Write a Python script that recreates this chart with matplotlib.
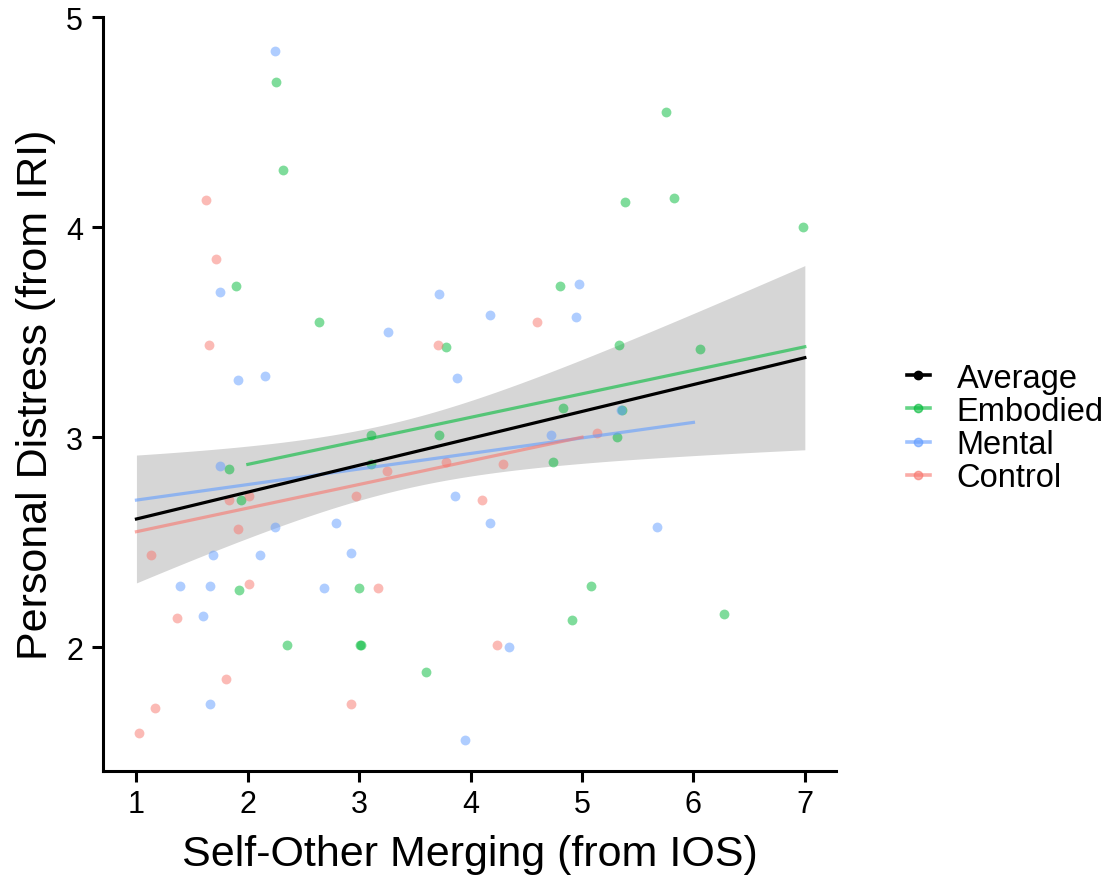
import numpy as np
import matplotlib
matplotlib.use("Agg")
import matplotlib.pyplot as plt
from matplotlib.lines import Line2D

plt.rcParams['font.family'] = ['Liberation Sans', 'DejaVu Sans']

# ---- data (x is jittered IOS) ----
emb_x = [2.25, 2.32, 1.89, 2.64, 3.78, 3.11, 3.72, 1.83, 3.11, 1.94, 1.92, 3.00, 2.35, 3.01, 3.02,
         3.60, 5.75, 5.39, 5.83, 6.98, 4.80, 5.33, 6.06, 4.83, 5.36, 5.31, 4.74, 5.08, 4.91, 6.27]
emb_y = [4.69, 4.27, 3.72, 3.55, 3.43, 3.01, 3.01, 2.85, 2.87, 2.70, 2.27, 2.28, 2.01, 2.01, 2.01,
         1.88, 4.55, 4.12, 4.14, 4.00, 3.72, 3.44, 3.42, 3.14, 3.13, 3.00, 2.88, 2.29, 2.13, 2.16]

men_x = [2.24, 1.75, 3.72, 3.26, 1.91, 2.15, 3.88, 1.75, 3.86, 2.24, 2.79, 1.69, 2.11, 2.93,
         1.39, 1.66, 2.68, 1.60, 1.66, 3.95, 4.97, 4.17, 4.95, 5.35, 4.72, 4.17, 5.67, 4.34]
men_y = [4.84, 3.69, 3.68, 3.50, 3.27, 3.29, 3.28, 2.86, 2.72, 2.57, 2.59, 2.44, 2.44, 2.45,
         2.29, 2.29, 2.28, 2.15, 1.73, 1.56, 3.73, 3.58, 3.57, 3.13, 3.01, 2.59, 2.57, 2.00]

con_x = [1.62, 1.71, 1.65, 3.71, 3.25, 3.78, 1.83, 2.01, 2.97, 4.10, 1.91, 4.60, 5.13, 4.29,
         1.13, 2.01, 3.17, 1.36, 1.80, 1.17, 2.93, 1.02, 4.24]
con_y = [4.13, 3.85, 3.44, 3.44, 2.84, 2.88, 2.70, 2.72, 2.72, 2.70, 2.56, 3.55, 3.02, 2.87,
         2.44, 2.30, 2.28, 2.14, 1.85, 1.71, 1.73, 1.59, 2.01]

# linear fits (intercept, slope) and IOS range per group
groups = ['Average', 'Embodied', 'Mental', 'Control']
fit_intercept = [2.482, 2.646, 2.626, 2.437]
fit_slope = [0.128, 0.112, 0.074, 0.1125]
fit_xmin = [1, 2, 1, 1]
fit_xmax = [7, 7, 6, 5]

x_ticks = [1, 2, 3, 4, 5, 6, 7]
y_ticks = [2, 3, 4, 5]

colors = {'Average': '#000000', 'Embodied': '#00BA38', 'Mental': '#619CFF', 'Control': '#F8766D'}

fig = plt.figure(figsize=(11.15, 8.79), dpi=100)
ax = fig.add_axes([0.0924, 0.1217, 0.6574, 0.8578])

# points
pts = [('Embodied', emb_x, emb_y), ('Mental', men_x, men_y), ('Control', con_x, con_y)]
for name, xs, ys in pts:
    ax.scatter(xs, ys, s=50, color=colors[name], alpha=0.5, linewidths=0, zorder=3)

# confidence band for the average fit (from all points)
all_x = np.array(emb_x + men_x + con_x)
all_y = np.array(emb_y + men_y + con_y)
n = len(all_x)
b0, b1 = fit_intercept[0], fit_slope[0]
resid = all_y - (b0 + b1 * all_x)
s = np.sqrt(np.sum(resid ** 2) / (n - 2))
xbar = all_x.mean()
sxx = np.sum((all_x - xbar) ** 2)
xx = np.linspace(fit_xmin[0], fit_xmax[0], 200)
yy = b0 + b1 * xx
half = 1.99 * s * np.sqrt(1.0 / n + (xx - xbar) ** 2 / sxx)
ax.fill_between(xx, yy - half, yy + half, color='#999999', alpha=0.4, linewidth=0, zorder=1)

# fit lines
for i, g in enumerate(groups):
    xl = np.linspace(fit_xmin[i], fit_xmax[i], 50)
    if g == 'Average':
        ax.plot(xl, fit_intercept[i] + fit_slope[i] * xl, color='black', lw=2.3, zorder=5)
    else:
        ax.plot(xl, fit_intercept[i] + fit_slope[i] * xl, color=colors[g], lw=2.3, alpha=0.6, zorder=4)

ax.set_xlim(0.7, 7.28)
ax.set_ylim(1.41, 5.0)
ax.set_xticks(x_ticks)
ax.set_yticks(y_ticks)
ax.set_xticklabels([str(v) for v in x_ticks])
ax.set_yticklabels([str(v) for v in y_ticks])
ax.tick_params(axis='both', labelsize=22, length=8, width=2.2, colors='black')
ax.tick_params(axis='x', pad=5)
ax.tick_params(axis='y', pad=6.5)
for side in ['top', 'right']:
    ax.spines[side].set_visible(False)
for side in ['left', 'bottom']:
    ax.spines[side].set_linewidth(2.2)
ax.set_xlabel('Self-Other Merging (from IOS)', fontsize=31, labelpad=11)
ax.set_ylabel('Personal Distress (from IRI)', fontsize=31, labelpad=7)

handles = []
for g in groups:
    a = 1.0 if g == 'Average' else 0.6
    handles.append(Line2D([0], [0], color=colors[g], lw=2.6, alpha=a, marker='o', markersize=6))
leg = fig.legend(handles, groups, loc='center left', bbox_to_anchor=(0.8135, 0.512), frameon=False,
                 fontsize=23.5, handlelength=0.7, handletextpad=0.82, labelspacing=0.07,
                 borderpad=0, borderaxespad=0)

fig.savefig('out.png', dpi=100)
